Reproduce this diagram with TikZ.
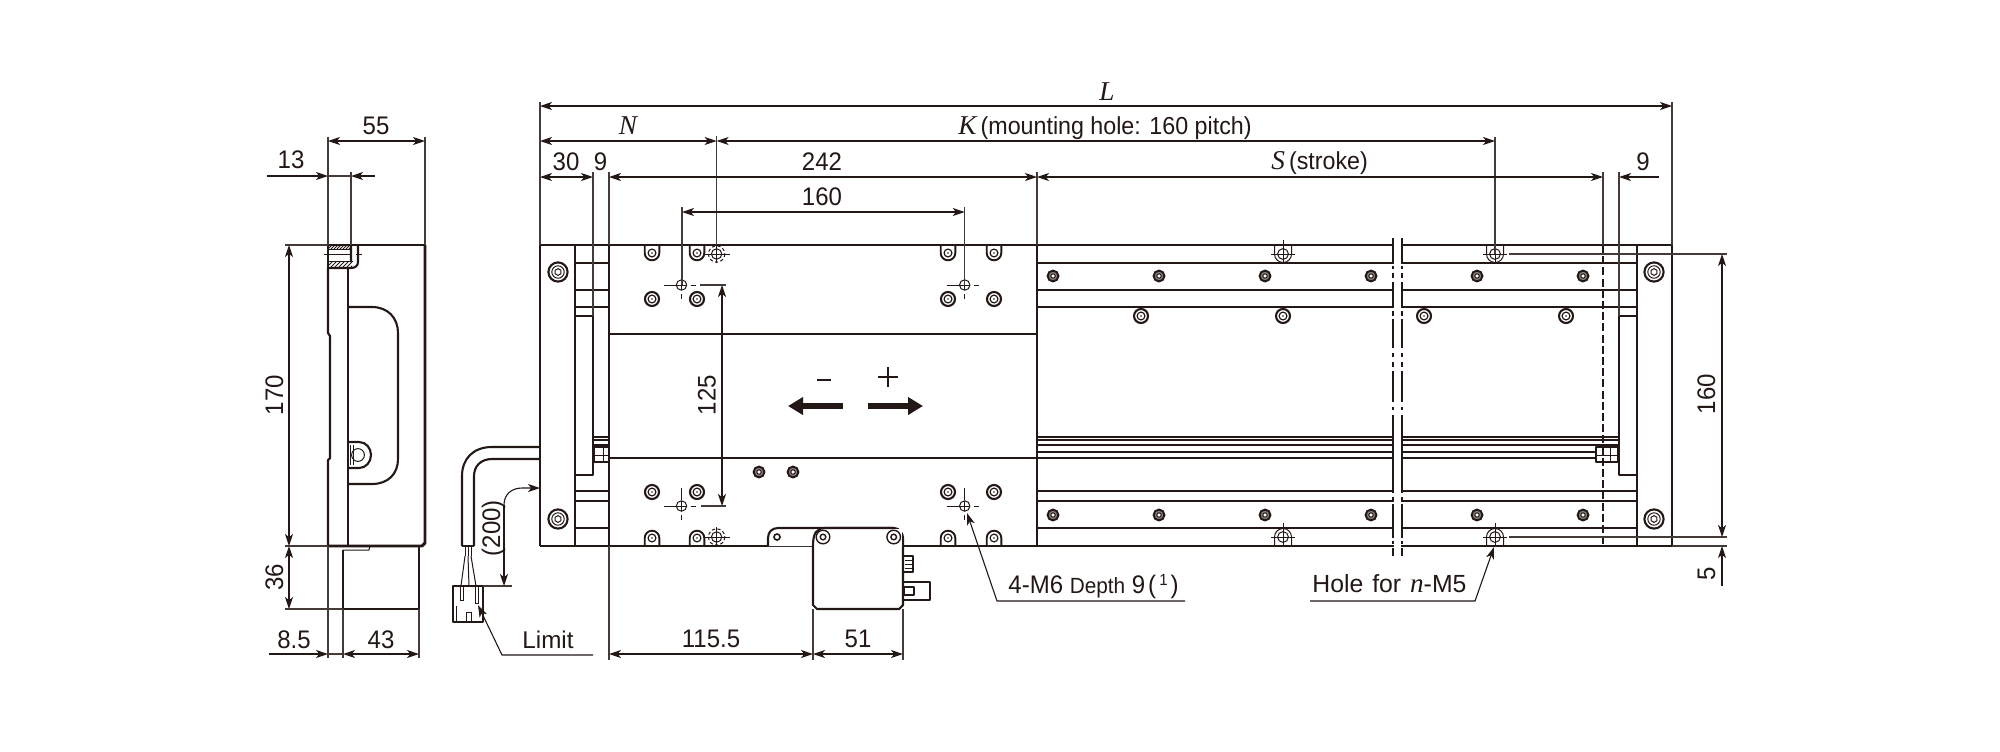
\documentclass[tikz,border=0pt]{standalone}
\usepackage{fontspec}
\setmainfont{Liberation Sans}[FakeStretch=0.945]
\newfontfamily\plainsans{Liberation Sans}
\newfontfamily\serifit{Liberation Serif}[ItalicFont=* Italic]
\usetikzlibrary{arrows.meta}
\definecolor{ink}{HTML}{231815}
\newcommand{\vv}[1]{{\serifit\itshape\fontsize{13.6}{15}\selectfont #1}}
\newcommand{\scrbig}[2]{\begin{scope}[shift={(#1,#2)}]
 \draw[obj] (0,0) circle (9.6); \draw[fine] (0,0) circle (6.2);
 \draw[fine] (30:3.4)--(90:3.4)--(150:3.4)--(210:3.4)--(270:3.4)--(330:3.4)--cycle;\end{scope}}
\newcommand{\scrmid}[2]{\begin{scope}[shift={(#1,#2)}]
 \draw[ink,line width=1.05pt] (0,0) circle (7); \draw[ink,line width=0.6pt] (0,0) circle (3.9); \fill[ink] (0,0) circle (0.9);\end{scope}}
\newcommand{\scrsmall}[2]{\begin{scope}[shift={(#1,#2)}]
 \fill[ink!55] (0,0) circle (4.6);
 \draw[ink,line width=1pt] (0,0) circle (5.4); \draw[ink,line width=0.5pt,fill=white] (0,0) circle (2.2);\end{scope}}
\newcommand{\scrtop}[2]{\begin{scope}[shift={(#1,#2)}]
 \draw[ink,line width=0.95pt,fill=white] (-7.3,-8) -- (-7.3,0) arc[start angle=180,end angle=0,radius=7.3] -- (7.3,-8);
 \draw[ink,line width=0.6pt] (0,0) circle (3.9); \fill[ink] (0,0) circle (0.9);\end{scope}}
\newcommand{\scrbot}[2]{\begin{scope}[shift={(#1,#2)}]
 \draw[ink,line width=0.95pt,fill=white] (-7.3,8) -- (-7.3,0) arc[start angle=180,end angle=360,radius=7.3] -- (7.3,8);
 \draw[ink,line width=0.6pt] (0,0) circle (3.9); \fill[ink] (0,0) circle (0.9);\end{scope}}
\tikzset{
 obj/.style={ink,line width=1.05pt,line join=round},
 heavy/.style={ink,line width=1.45pt,line join=round},
 fine/.style={ink,line width=0.5pt},
 ext/.style={ink!85,line width=0.55pt},
 dimb/.style={ink,line width=0.55pt,{Stealth[length=6pt,width=4pt,inset=1.6pt]}-{Stealth[length=6pt,width=4pt,inset=1.6pt]}},
 dimr/.style={ink,line width=0.55pt,-{Stealth[length=6pt,width=4pt,inset=1.6pt]}},
 lbl/.style={ink,inner sep=0pt,anchor=base,font=\fontsize{12.7}{14}\selectfont},
 vlbl/.style={lbl,rotate=90},
 chain/.style={ink,line width=0.6pt},
}
\begin{document}
\begin{tikzpicture}[x=0.5pt,y=-0.5pt]
\useasboundingbox (0,0) rectangle (2000,751);
\fill[white] (0,0) rectangle (2000,751);

%% ---------- side view ----------
\draw[obj] (328,268) -- (328,333) -- (330,336) -- (330,458) -- (328,460) -- (328,546);
\draw[obj] (348,268) -- (348,546);
\draw[obj] (328,245) -- (425,245);
\draw[heavy] (425,245) -- (425,543) -- (422,546) -- (328,546);
\draw[obj] (348,307) -- (372,307) .. controls (388,307) and (398,318) .. (398,333) -- (398,459) .. controls (398,474) and (388,484) .. (372,484) -- (348,484);
\draw[obj] (348,442) -- (359,442) .. controls (366,442) and (371,448) .. (371,455) .. controls (371,462) and (366,468) .. (359,468) -- (348,468);
\draw[fine] (358,455) circle (6.4);
\draw[fine] (350,445) -- (350,465) (353,445) -- (353,465);
% counterbored hole section
\draw[obj] (351,245) -- (351,262) (358,245) -- (358,262) .. controls (358,266) and (355,268) .. (351,268) -- (328,268);
\draw[fine] (328,249) -- (351,249) (328,261) -- (353,261);
\draw[obj] (328,245) -- (328,268);
\draw[fine] (324,254) -- (350,254) (356,254) -- (362,254);
\begin{scope}\clip (328,245) rectangle (351,249);
 \foreach \i in {0,3,...,27}{\draw[fine,line width=0.4pt] (325+\i,249) -- (329+\i,245);}\end{scope}
\begin{scope}\clip (328,261) rectangle (352,268);
 \foreach \i in {0,4,...,32}{\draw[fine,line width=0.5pt] (322+\i,268) -- (329+\i,261);}\end{scope}
% motor
\draw[obj] (343,550) -- (343,609) (419,546) -- (419,609);
\draw[heavy] (343,609) -- (419,609);
\draw[fine] (343,550) -- (369,550) -- (370,546);
% side dims
\draw[ext] (328,137) -- (328,245) (425,137) -- (425,245) (351,172) -- (351,245);
\draw[ext] (328,546) -- (328,658) (343,609) -- (343,658) (419,609) -- (419,658);
\draw[ext] (285,245) -- (328,245) (285,546) -- (328,546) (285,609) -- (343,609);
\draw[dimb] (328,141) -- (425,141);
\draw[dimr] (267,176) -- (328,176);
\draw[ext] (328,176) -- (351,176);
\draw[dimr] (375,176) -- (351,176);
\draw[dimb] (289,245) -- (289,546);
\draw[dimb] (289,546) -- (289,609);
\draw[dimr] (269,654) -- (328,654);
\draw[ext] (328,654) -- (343,654);
\draw[dimb] (343,654) -- (419,654);
\node[lbl] (t55) at (376,134) {55};
\node[lbl] (t13) at (291,168) {13};
\node[vlbl] (t170) at (283,395) {170};
\node[vlbl] (t36) at (283,577) {36};
\node[lbl] (t85) at (294,648) {8.5};
\node[lbl] (t43) at (381,648) {43};

%% ---------- main view: interior lines ----------
\foreach \y in {263,290,307}{\draw[obj] (575,\y) -- (609,\y) (1037,\y) -- (1636,\y);}
\foreach \y in {491,501,528}{\draw[obj] (575,\y) -- (609,\y) (1037,\y) -- (1636,\y);}
\draw[obj] (575,316) -- (593,316) -- (593,475) -- (575,475);
\draw[obj] (1636,316) -- (1619,316) -- (1619,475) -- (1636,475);
\foreach \y in {437,440,445}{\draw[obj] (1037,\y) -- (1619,\y) (593,\y) -- (609,\y);}
\foreach \y in {452,458}{\draw[obj] (1037,\y) -- (1596,\y);}
\draw[obj] (1596,447) rectangle (1618,462);
\draw[fine] (1610,447) -- (1610,462) (1596,455) -- (1618,455);
\draw[obj] (594,447) rectangle (609,462);
\draw[fine] (603,447) -- (603,462) (594,455) -- (609,455);
% rail screws
\foreach \x in {1053,1159,1265,1371,1477,1583}{\scrsmall{\x}{276}\scrsmall{\x}{515}}
\foreach \x in {1141,1283,1424,1566}{\scrmid{\x}{316}}
% plate screws
\scrbig{558}{272}\scrbig{558}{519}\scrbig{1654}{272}\scrbig{1654}{519}
% table screws
\foreach \x in {652,697,948,994}{\scrtop{\x}{253}\scrmid{\x}{299}\scrmid{\x}{492}\scrbot{\x}{538}}
\scrsmall{759}{472}\scrsmall{793}{472}
% outline
\draw[obj] (540,546) -- (540,245) -- (1672,245) -- (1672,546);
\draw[obj] (575,245) -- (575,546) (609,245) -- (609,546) (1037,245) -- (1037,546) (1637,245) -- (1637,546);
\draw[obj] (609,334) -- (1037,334) (609,458) -- (1037,458);
\draw[heavy] (540,546) -- (1672,546);
% mounting holes, dashed (under table)
\foreach \y in {254,537}{
 \draw[fine,dash pattern=on 1.6pt off 1.2pt] (716.6,\y) circle (8.2);
 \draw[fine] (716.6,\y) circle (5.2);
 \draw[fine] (704,\y) -- (730,\y);}
\draw[fine] (716.6,245) -- (716.6,263);
\draw[fine] (716.6,527) -- (716.6,546);
% mounting holes on rail
\foreach \x in {1283,1495}{
 \draw[fine] (\x-8.5,245) -- (\x-8.5,254) arc[start angle=180,end angle=0,radius=8.5] -- (\x+8.5,245);
 \draw[fine] (\x,254) circle (5.4);
 \draw[fine] (\x-12,254) -- (\x+12,254) (\x,240) -- (\x,262);
 \draw[fine] (\x-8.5,546) -- (\x-8.5,537) arc[start angle=180,end angle=360,radius=8.5] -- (\x+8.5,546);
 \draw[fine] (\x,537) circle (5.4);
 \draw[fine] (\x-12,537) -- (\x+12,537) (\x,523) -- (\x,546);}
% 4-M6 holes
\foreach \x/\y in {681.5/285,964.7/285,681.5/506,964.7/506}{
 \draw[fine] (\x,\y) circle (5.2);
 \draw[fine] (\x-5.2,\y) -- (\x+5.2,\y) (\x,\y-5.2) -- (\x,\y+5.2);
 \draw[fine] (\x-18,\y) -- (\x-5,\y) (\x+9,\y) -- (\x+14,\y) (\x,\y+9) -- (\x,\y+14);}
\draw[fine] (681.5,488) -- (681.5,500) (964.7,488) -- (964.7,500);
% dashed stroke end
\draw[chain,dash pattern=on 4pt off 1.6pt] (1603,245) -- (1603,546);

%% ---------- break ----------
\fill[white] (1394.2,236) rectangle (1400.8,558);
\foreach \x in {1393,1402}{
 \draw[chain] (\x,238)--(\x,263) (\x,266)--(\x,269) (\x,273)--(\x,278) (\x,282)--(\x,308) (\x,311)--(\x,316) (\x,319)--(\x,348) (\x,353)--(\x,357) (\x,362)--(\x,367) (\x,371)--(\x,402) (\x,407)--(\x,410) (\x,415)--(\x,493) (\x,497)--(\x,500) (\x,504)--(\x,538) (\x,541)--(\x,544) (\x,548)--(\x,556);}

%% ---------- limit box ----------
\draw[obj,fill=white] (768,546) -- (768,538) .. controls (768,532) and (772,528) .. (778,528) -- (894,528) .. controls (900,528) and (903,534) .. (903,538) -- (903,546);
\draw[obj] (813,546) -- (813,605) -- (817,609) -- (899,609) -- (903,605) -- (903,546);
\fill[white] (814,528.8) rectangle (902,547);
\draw[obj] (813,546) .. controls (813,534) and (816,528) .. (825,528) -- (893,528);
\draw[ink,line width=0.7pt] (823,537) circle (6.8) (823,537) circle (2.8);
\draw[ink,line width=0.7pt] (893.7,537) circle (6.8) (893.7,537) circle (2.8);
\draw[ink,line width=0.8pt] (777,537) circle (3);
\draw[obj] (903,556) -- (913,556) -- (913,572) -- (903,572);
\draw[fine] (905,560) -- (913,560) (905,564) -- (913,564) (905,568) -- (913,568);
\draw[obj] (903,582) -- (930,582) -- (930,600) -- (903,600);
\draw[obj] (904,587) rectangle (914,595);

%% ---------- cable ----------
\draw[obj] (540,447) -- (492,447) .. controls (473,447) and (462,459) .. (462,476) -- (462,546);
\draw[obj] (540,459) -- (492,459) .. controls (481,459) and (474,466) .. (474,476) -- (474,546);
\draw[heavy] (462,546) -- (474,546);
\draw[fine] (465,546) -- (465,556) (468,546) -- (468,556) (471,546) -- (471,556);
\draw[fine] (465,556) -- (461,586) (468,556) -- (469,586) (471,556) -- (476,586);
\draw[heavy] (453,586) rectangle (483,622);
\draw[fine] (460,586) -- (460,600) -- (463,600) -- (463,586);
\draw[fine] (475,586) -- (475,603) -- (478,603) -- (478,586);
\draw[fine] (456,606) -- (456,622);
\draw[fine] (466,612) rectangle (471,622);
\draw[ext] (483,586) -- (512,586);
\coordinate (cbl) at (504,586);
\coordinate (plt) at (540,488);
\draw[dimr] (504,505) -- (cbl);
\draw[dimr] (504,505) .. controls (504,494) and (512,488) .. (522,488) -- (plt);
\node[vlbl] (t200) at (500,528) {(200)};
% limit label
\coordinate (lk) at (502,655);
\coordinate (lt) at (478,605);
\draw[dimr] (593,655) -- (lk) -- (lt);
\node[lbl,font=\plainsans\fontsize{12.1}{14}\selectfont] (tlimit) at (548,648) {Limit};

%% ---------- main dims ----------
\draw[ext] (540,102) -- (540,245) (1672,102) -- (1672,245);
\draw[ext] (593,172) -- (593,316) (609,172) -- (609,245) (1037,172) -- (1037,245);
\draw[ext] (716.6,136) -- (716.6,245) (1495,137) -- (1495,254);
\draw[ext] (682,207) -- (682,285) (964.7,207) -- (964.7,285);
\draw[ext] (1603,172) -- (1603,245) (1619,172) -- (1619,316);
\draw[dimb] (540,106) -- (1672,106);
\draw[dimb] (540,141) -- (716.6,141);
\draw[dimb] (716.6,141) -- (1495,141);
\draw[dimb] (540,177) -- (593,177);
\draw[dimb] (609,177) -- (1037,177);
\draw[dimb] (1037,177) -- (1603,177);
\draw[dimr] (1659,177) -- (1619,177);
\draw[dimb] (682,212) -- (964.7,212);
\node[lbl] (tL) at (1107,100) {\vv{L}};
\node[lbl] (tN) at (628,134) {\vv{N}};
\node[lbl,anchor=base west,font=\fontsize{12.3}{14}\selectfont] (tK) at (958,134) {\vv{K}\,(mounting hole: 160 pitch)};
\node[lbl,anchor=base west,font=\fontsize{12.3}{14}\selectfont] (tS) at (1271,169) {\vv{S}\,(stroke)};
\node[lbl] (t30) at (566,170) {30};
\node[lbl] (t9a) at (600.5,170) {9};
\node[lbl] (t242) at (822,170) {242};
\node[lbl] (t160a) at (822,205) {160};
\node[lbl] (t9b) at (1643,170) {9};
% 125
\draw[ext] (700,285) -- (726,285) (700.7,506) -- (726,506);
\draw[dimb] (722,285) -- (722,506);
\node[vlbl] (t125) at (715.7,395) {125};
% right dims
\draw[ext] (1509,254) -- (1727,254) (1509,537) -- (1727,537) (1672,546) -- (1727,546);
\draw[dimb] (1722,254) -- (1722,537);
\draw[dimr] (1722,586) -- (1722,546);
\node[vlbl] (t160b) at (1715,394) {160};
\node[vlbl] (t5) at (1715,574) {5};
% bottom dims
\draw[ext] (609,546) -- (609,660) (813,609) -- (813,660) (903,609) -- (903,660);
\draw[dimb] (609,654) -- (813,654);
\draw[dimb] (813,654) -- (903,654);
\node[lbl] (t1155) at (711,647) {115.5};
\node[lbl] (t51) at (858,647) {51};
% direction arrows
\draw[ink,line width=2.7pt,{Stealth[length=7.5pt,width=8.5pt,inset=0pt]}-] (788,406) -- (843,406);
\draw[ink,line width=2.7pt,-{Stealth[length=7.5pt,width=8.5pt,inset=0pt]}] (868,406) -- (923,406);
\draw[ink,line width=0.6pt] (817,380) -- (831,380);
\draw[ink,line width=0.7pt] (878,377) -- (898,377) (888,367) -- (888,387);
% leaders
\coordinate (ma) at (967,513);
\coordinate (mk) at (997,601);
\draw[dimr] (1185,601) -- (mk) -- (ma);
\node[lbl,anchor=base west] (tm6) at (1008,593) {4-M6 {\fontsize{11}{12}\selectfont Depth} 9\hspace{1.5pt}({\fontsize{8}{9}\selectfont\raisebox{3.8pt}{\hspace{1.5pt}1\hspace{1.5pt}}})};
\coordinate (ha) at (1494,547);
\coordinate (hk) at (1475,601);
\draw[dimr] (1310,601) -- (hk) -- (ha);
\node[lbl,anchor=base west,font=\plainsans\fontsize{12.4}{14}\selectfont] (thole) at (1312,592) {Hole\hspace{1pt} for\hspace{1pt} \vv{n}-M5};
\end{tikzpicture}
\end{document}
